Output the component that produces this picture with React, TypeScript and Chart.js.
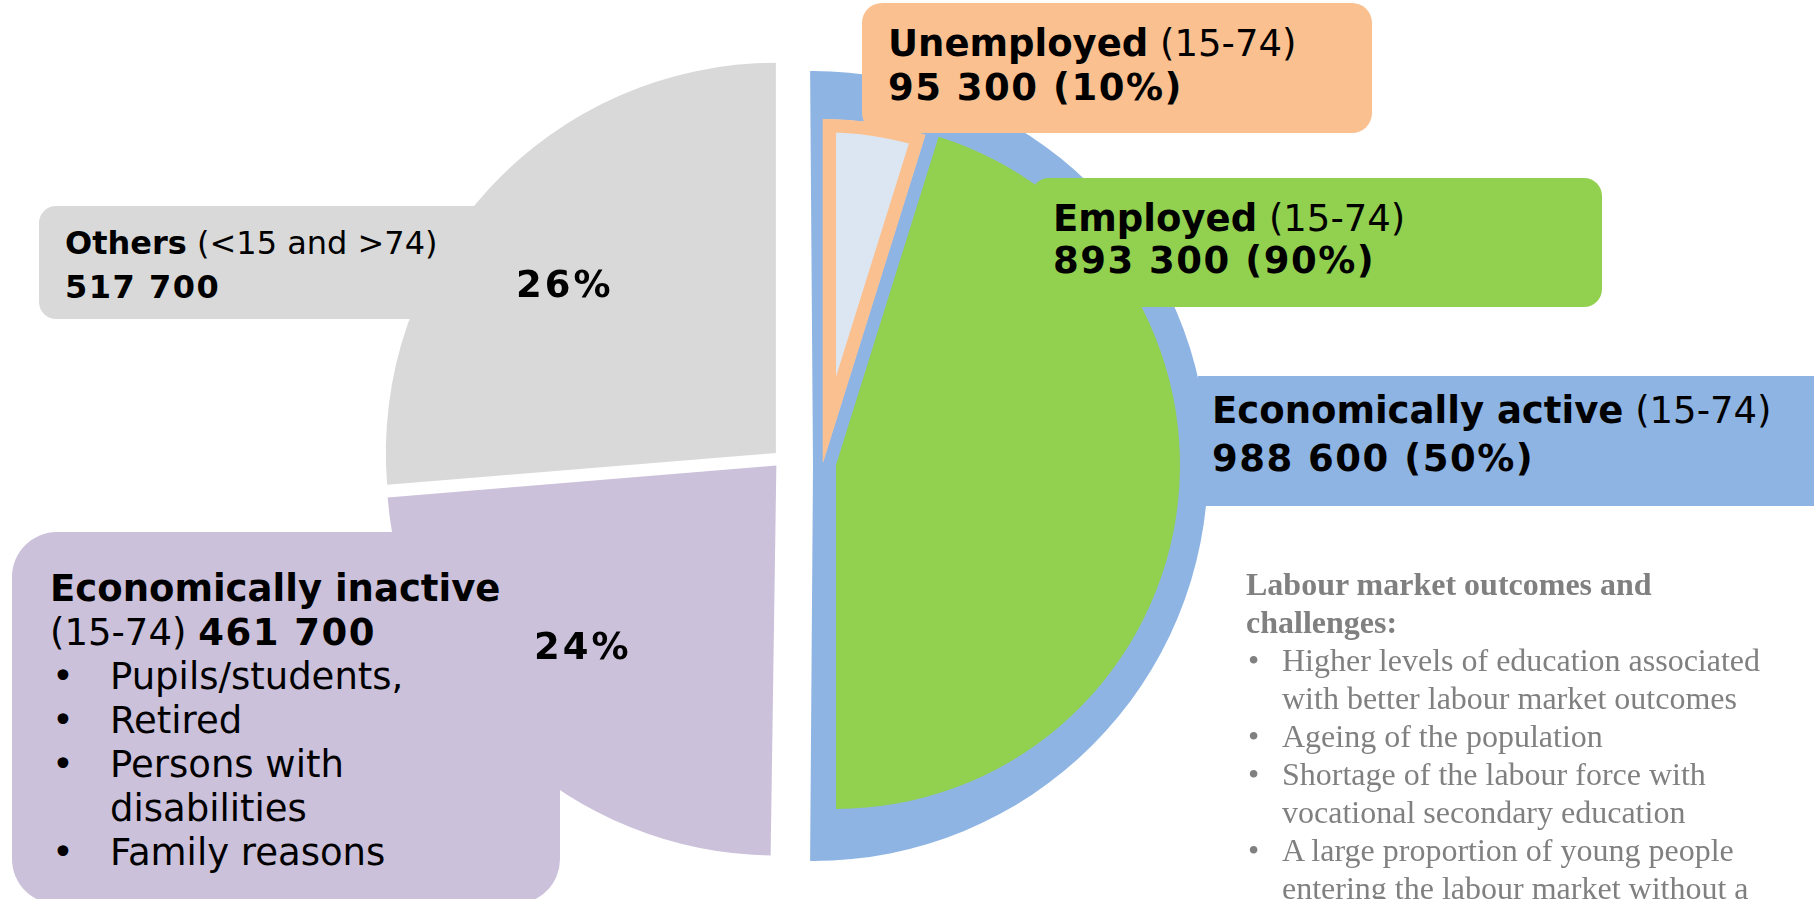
import React, { useEffect, useRef } from "react";
import { Chart, registerables } from "chart.js";

Chart.register(...registerables);

// ---- Data ----
const outerNames = ["Economically active", "Economically inactive", "Others"];
const outerQualifiers = ["(15-74)", "(15-74)", "(<15 and >74)"];
const outerValues = [988600, 461700, 517700];
const outerShares = ["50%", "24%", "26%"];
const outerColors = ["#8EB4E3", "#CCC1DA", "#D9D9D9"];

const innerNames = ["Unemployed", "Employed"];
const innerQualifiers = ["(15-74)", "(15-74)"];
const innerValues = [95300, 893300];
const innerShares = ["10%", "90%"];
const innerColors = ["#DCE6F2", "#92D050"];
const innerBorderColors = ["#FAC090", "#92D050"];

const inactiveReasons = ["Pupils/students,", "Retired", "Persons with disabilities", "Family reasons"];
const challengesTitle = "Labour market outcomes and challenges:";
const challenges = [
  "Higher levels of education associated with better labour market outcomes",
  "Ageing of the population",
  "Shortage of the labour force with vocational secondary education",
  "A large proportion of young people entering the labour market without a",
];

const fmt = (v: number) => String(v).replace(/\B(?=(\d{3})+(?!\d))/g, " ");

const SANS = '"DejaVu Sans", Verdana, sans-serif';
const SERIF = '"Liberation Serif", "Times New Roman", serif';
const W = 1814;
const H = 899;
const NONE = "rgba(0,0,0,0)";

const abs = (o: React.CSSProperties): React.CSSProperties => ({ position: "absolute", ...o });

// padding so that the pie's centre lands at (cx, cy)
function padFor(cx: number, cy: number, r: number, half: boolean) {
  const ax = half ? cx + r / 2 : cx;
  const ay = cy;
  return {
    left: Math.max(0, 2 * ax - W),
    right: Math.max(0, W - 2 * ax),
    top: Math.max(0, 2 * ay - H),
    bottom: Math.max(0, H - 2 * ay),
  };
}

function makePie(
  canvas: HTMLCanvasElement,
  labels: string[],
  values: number[],
  ds: any,
  cx: number,
  cy: number,
  r: number,
  half: boolean,
  rotation = 0
) {
  const circumference = half ? 180 : 360;
  return new Chart(canvas, {
    type: "pie",
    data: {
      labels,
      datasets: [{ data: values, borderWidth: 0, radius: r, rotation, circumference, ...ds } as any],
    },
    options: {
      responsive: false,
      animation: false,
      events: [],
      radius: r,
      rotation,
      circumference,
      layout: { padding: padFor(cx, cy, r, half) },
      plugins: { legend: { display: false }, tooltip: { enabled: false }, title: { display: false } },
    } as any,
  });
}

export default function App() {
  const leftRef = useRef<HTMLCanvasElement | null>(null);
  const activeRef = useRef<HTMLCanvasElement | null>(null);
  const unempRef = useRef<HTMLCanvasElement | null>(null);
  const empRef = useRef<HTMLCanvasElement | null>(null);

  useEffect(() => {
    const charts = [
      // left half: inactive + others (exploded slightly)
      makePie(leftRef.current!, outerNames, outerValues,
        { backgroundColor: [NONE, outerColors[1], outerColors[2]], offset: [0, 36, 36] },
        782.5, 459, 390, false),
      // right half: economically active
      makePie(activeRef.current!, outerNames, outerValues,
        { backgroundColor: [outerColors[0], NONE, NONE] },
        813, 466, 395, false, -0.42),
      // unemployed wedge
      makePie(unempRef.current!, innerNames, innerValues,
        {
          backgroundColor: [innerColors[0], NONE],
          borderColor: [innerBorderColors[0], NONE],
          borderWidth: [13, 0],
          borderAlign: ["inner", "center"],
          borderJoinStyle: "miter",
        },
        823, 462, 343, true),
      // employed
      makePie(empRef.current!, innerNames, innerValues,
        { backgroundColor: [NONE, innerColors[1]] },
        836, 465, 344, true),
    ];
    return () => charts.forEach((c) => c.destroy());
  }, []);

  const big: React.CSSProperties = { fontFamily: SANS, fontSize: 37, color: "#000", whiteSpace: "nowrap" };
  const num: React.CSSProperties = { letterSpacing: "1.5px" };
  const pct: React.CSSProperties = { letterSpacing: "3px" };
  const cv = abs({ left: 0, top: 0, width: W, height: H });

  return (
    <div style={{ position: "fixed", left: 0, top: 0, width: W, height: H, overflow: "hidden", background: "#fff" }}>
      <canvas ref={leftRef} width={W} height={H} style={cv} />
      <canvas ref={activeRef} width={W} height={H} style={cv} />
      <canvas ref={unempRef} width={W} height={H} style={cv} />
      <canvas ref={empRef} width={W} height={H} style={cv} />

      {/* label boxes */}
      <div style={abs({ left: 862, top: 3, width: 510, height: 130, background: innerBorderColors[0], borderRadius: 20 })} />
      <div style={abs({ left: 1031, top: 178, width: 571, height: 129, background: innerColors[1], borderRadius: 18 })} />
      <div style={abs({ left: 1198, top: 376, width: 640, height: 130, background: outerColors[0] })} />
      <div style={abs({ left: 39, top: 206, width: 490, height: 113, background: outerColors[2], borderRadius: 17 })} />
      <div style={abs({ left: 12, top: 532, width: 548, height: 372, background: outerColors[1], borderRadius: 45 })} />

      {/* Unemployed */}
      <div style={abs({ ...big, left: 888, top: 21.5, lineHeight: "44.5px" })}>
        <div><b>{innerNames[0]}</b> {innerQualifiers[0]}</div>
        <div style={num}><b>{fmt(innerValues[0])} ({innerShares[0]})</b></div>
      </div>

      {/* Employed */}
      <div style={abs({ ...big, left: 1053, top: 197.5, lineHeight: "42.5px" })}>
        <div><b>{innerNames[1]}</b> {innerQualifiers[1]}</div>
        <div style={num}><b>{fmt(innerValues[1])} ({innerShares[1]})</b></div>
      </div>

      {/* Economically active */}
      <div style={abs({ ...big, left: 1212, top: 387, lineHeight: "48px" })}>
        <div><b>{outerNames[0]}</b> {outerQualifiers[0]}</div>
        <div style={num}><b>{fmt(outerValues[0])} ({outerShares[0]})</b></div>
      </div>

      {/* Others */}
      <div style={abs({ ...big, fontSize: 32, left: 65, top: 221, lineHeight: "44px" })}>
        <div><b>{outerNames[2]}</b> {outerQualifiers[2]}</div>
        <div style={num}><b>{fmt(outerValues[2])}</b></div>
      </div>
      <div style={abs({ ...big, ...pct, left: 516, top: 263, lineHeight: "43px" })}><b>{outerShares[2]}</b></div>

      {/* Economically inactive */}
      <div style={abs({ ...big, left: 50, top: 567, lineHeight: "44px" })}>
        <div><b>{outerNames[1]}</b></div>
        <div>{outerQualifiers[1]} <b style={num}>{fmt(outerValues[1])}</b></div>
        {inactiveReasons.map((r) => (
          <div key={r} style={{ position: "relative", paddingLeft: 60, width: 420, whiteSpace: "normal" }}>
            <span style={{ position: "absolute", left: 2 }}>•</span>
            {r}
          </div>
        ))}
      </div>
      <div style={abs({ ...big, ...pct, left: 534, top: 625, lineHeight: "43px" })}><b>{outerShares[1]}</b></div>

      {/* Challenges text */}
      <div style={abs({ left: 1246, top: 565, fontFamily: SERIF, fontSize: 32, lineHeight: "38px", color: "#808080" })}>
        <div style={{ fontWeight: "bold", width: 440 }}>{challengesTitle}</div>
        {challenges.map((c) => (
          <div key={c} style={{ position: "relative", paddingLeft: 36, width: 505 }}>
            <span style={{ position: "absolute", left: 2 }}>•</span>
            {c}
          </div>
        ))}
      </div>
    </div>
  );
}
